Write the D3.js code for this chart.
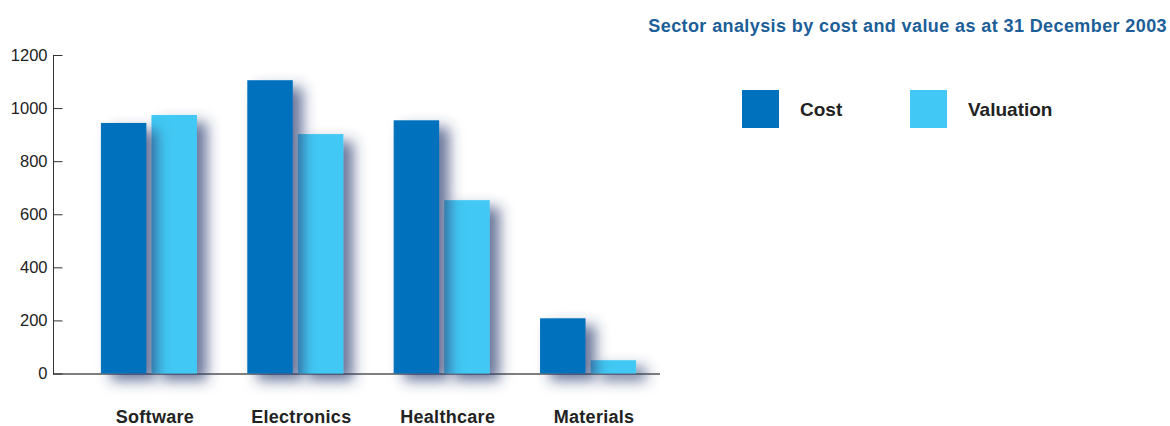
<!DOCTYPE html>
<html>
<head>
<meta charset="utf-8">
<script src="https://cdn.jsdelivr.net/npm/d3@7"></script>
<style>
  body { margin: 0; background: #fff; }
  svg { display: block; font-family: "Liberation Sans", Arial, sans-serif; }
</style>
</head>
<body>
<script>
const w = 1170
const h = 426

// data
const sectors = ['Software', 'Electronics', 'Healthcare', 'Materials']
const cost = [944, 1105, 954, 208]
const valuation = [974, 902, 653, 50]
const yTicks = [0, 200, 400, 600, 800, 1000, 1200]
const seriesNames = ['Cost', 'Valuation']
const colors = ['#0071bc', '#42c8f4']

const svg = d3.select('body').append('svg').attr('width', w).attr('height', h)

// soft drop shadow like the print version
const defs = svg.append('defs')
const f = defs.append('filter').attr('id', 'shadow')
  .attr('filterUnits', 'userSpaceOnUse')
  .attr('x', 0).attr('y', 0).attr('width', w).attr('height', h)
f.append('feGaussianBlur').attr('in', 'SourceAlpha').attr('stdDeviation', 7).attr('result', 'blur')
f.append('feOffset').attr('in', 'blur').attr('dx', 10).attr('dy', 7).attr('result', 'off')
f.append('feFlood').attr('flood-color', '#2a3c70').attr('flood-opacity', 0.7)
f.append('feComposite').attr('in2', 'off').attr('operator', 'in').attr('result', 'sh')
const fm = f.append('feMerge')
fm.append('feMergeNode').attr('in', 'sh')
fm.append('feMergeNode').attr('in', 'SourceGraphic')

const y = d3.scaleLinear().domain([0, 1200]).range([373.5, 55])
const x0 = d3.scaleBand().domain(sectors).range([57, 680]).paddingInner(0.344).paddingOuter(0.3)
const x1 = d3.scaleBand().domain(seriesNames).range([0, x0.bandwidth()]).paddingInner(0.1)

const rows = sectors.map((s, i) => ({ sector: s, Cost: cost[i], Valuation: valuation[i] }))

// baseline
svg.append('line')
  .attr('x1', 53).attr('x2', 660)
  .attr('y1', y(0) + 0.5).attr('y2', y(0) + 0.5)
  .attr('stroke', '#555').attr('stroke-width', 1.5)

// valuation first so the cost shadow falls over it
;['Valuation', 'Cost'].forEach(k => {
  svg.append('g').selectAll('rect').data(rows).enter().append('rect')
    .attr('x', d => x0(d.sector) + x1(k))
    .attr('y', d => y(d[k]))
    .attr('width', x1.bandwidth())
    .attr('height', d => y(0) - y(d[k]))
    .attr('fill', colors[seriesNames.indexOf(k)])
    .attr('filter', 'url(#shadow)')
})

const leftAxis = d3.axisLeft(y).tickValues(yTicks).tickFormat(d3.format('d'))
  .tickSize(-9).tickSizeOuter(0).tickPadding(6)
const ga = svg.append('g').attr('transform', 'translate(53.5,0)').call(leftAxis)
ga.attr('font-family', null).attr('font-size', null)
ga.selectAll('path, line').attr('stroke', '#333').attr('stroke-width', 1)
ga.selectAll('text').attr('fill', '#222').style('font-size', '16.5px')
ga.select('.domain').attr('d', 'M0,' + y(1200) + 'V' + (y(0) + 1))

// category labels
svg.append('g').selectAll('text').data(sectors).enter().append('text')
  .attr('x', d => x0(d) + x0.bandwidth() / 2 + 6)
  .attr('y', 423)
  .attr('text-anchor', 'middle')
  .attr('fill', '#222')
  .style('font-size', '18px').style('font-weight', 'bold').style('letter-spacing', '0.3px')
  .text(d => d)

// title
svg.append('text')
  .attr('x', 1167).attr('y', 32)
  .attr('text-anchor', 'end')
  .attr('fill', '#1b5e98')
  .style('font-size', '18px').style('font-weight', 'bold').style('letter-spacing', '0.4px')
  .text('Sector analysis by cost and value as at 31 December 2003')

// legend
const lx = [742, 910]
const legend = svg.append('g').selectAll('g').data(seriesNames).enter().append('g')
  .attr('transform', (d, i) => 'translate(' + lx[i] + ',90)')
legend.append('rect').attr('width', 37).attr('height', 38).attr('fill', (d, i) => colors[i])
legend.append('text').attr('x', 58).attr('y', 26)
  .attr('fill', '#222').style('font-size', '19px').style('font-weight', 'bold')
  .text(d => d)
</script>
</body>
</html>
